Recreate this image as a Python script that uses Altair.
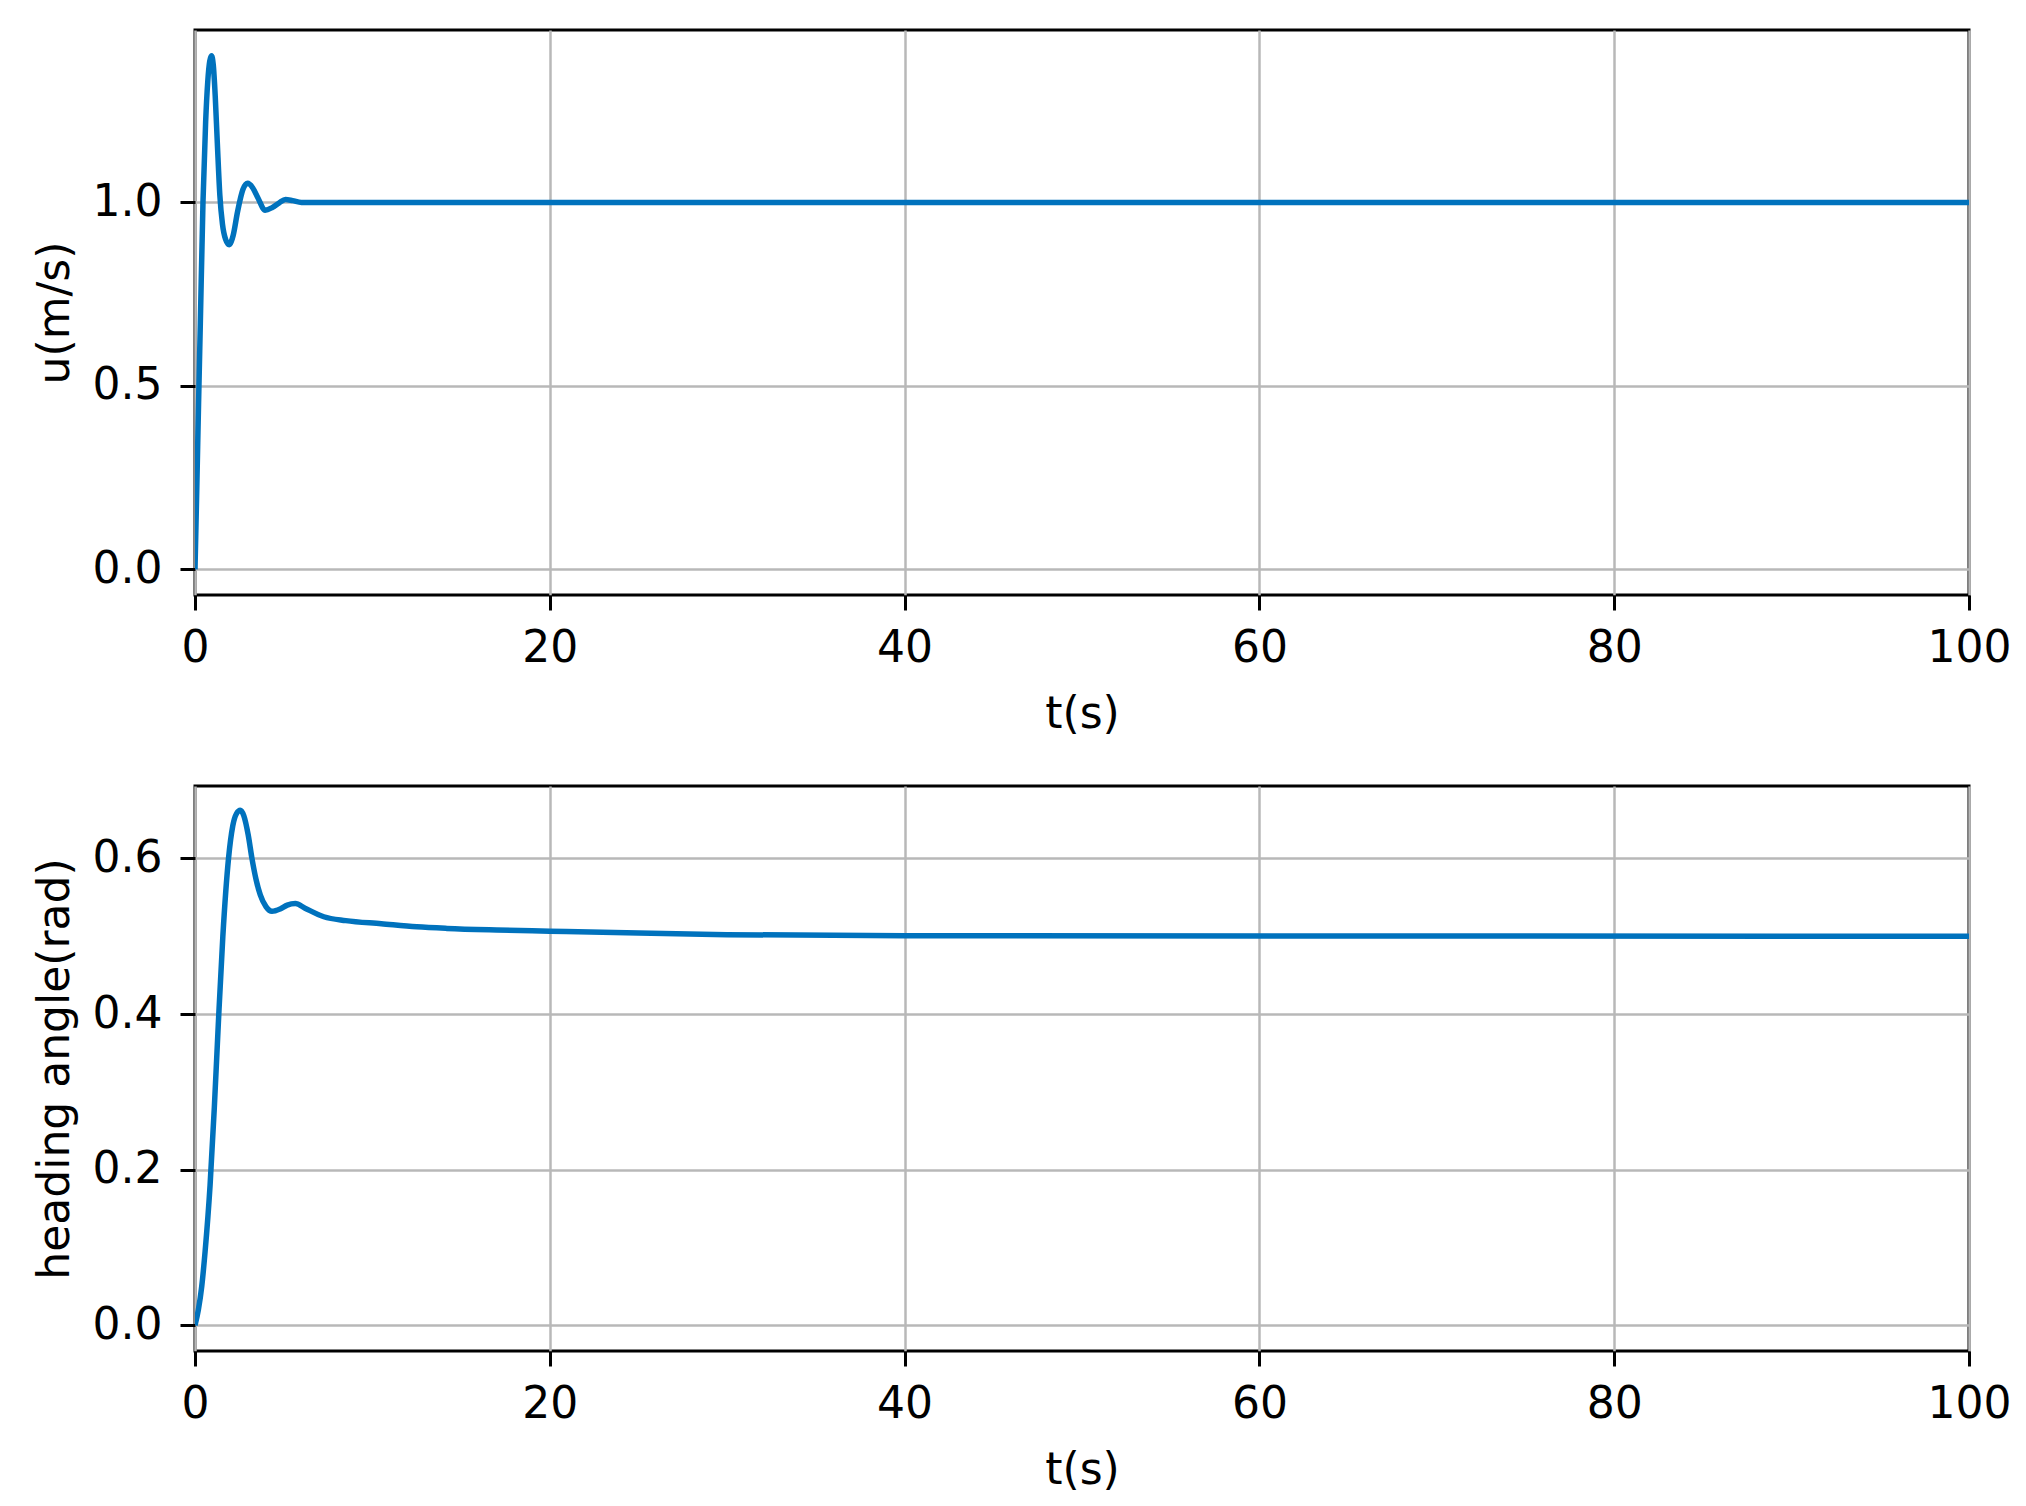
import altair as alt
import pandas as pd

# ---- data ----
t_u = [0, 0.1, 0.2, 0.3, 0.45, 0.6, 0.72, 0.83, 0.93, 1.03, 1.14, 1.26, 1.4, 1.55,
       1.72, 1.93, 2.15, 2.4, 2.7, 2.97, 3.25, 3.55, 3.95, 4.35, 4.75, 5.1, 5.5,
       6.0, 6.5, 8, 100]
u_vals = [0, 0.22, 0.45, 0.67, 1.0, 1.22, 1.33, 1.385, 1.40, 1.375, 1.29, 1.16,
          1.02, 0.94, 0.90, 0.885, 0.91, 0.975, 1.035, 1.052, 1.04, 1.012, 0.979,
          0.986, 0.999, 1.008, 1.005, 1.0, 1.0, 1.0, 1.0]

t_h = [0, 0.19, 0.38, 0.57, 0.85, 1.09, 1.32, 1.57, 1.89, 2.13, 2.35, 2.55, 2.75,
       3.0, 3.21, 3.45, 3.68, 4.0, 4.34, 4.8, 5.2, 5.66, 6.2, 7.26, 8.5, 10.5,
       12.5, 14.2, 17, 20, 25, 30, 40, 100]
h_vals = [0, 0.02, 0.05, 0.095, 0.18, 0.28, 0.39, 0.50, 0.6, 0.642, 0.658,
          0.662, 0.655, 0.63, 0.6, 0.572, 0.553, 0.538, 0.532, 0.535, 0.540,
          0.542, 0.536, 0.525, 0.520, 0.516, 0.512, 0.510, 0.508, 0.5065, 0.504,
          0.502, 0.5005, 0.5]

x_ticks = [0, 20, 40, 60, 80, 100]
u_ticks = [0.0, 0.5, 1.0]
h_ticks = [0.0, 0.2, 0.4, 0.6]

LINE = "#0072BD"
W, H = 1774, 565


def panel(t, v, ylabel, ydomain, yticks):
    df = pd.DataFrame({"t": t, "v": v})
    return (
        alt.Chart(df)
        .mark_line(color=LINE, strokeWidth=5.5, interpolate="monotone", clip=True)
        .encode(
            x=alt.X("t:Q",
                    scale=alt.Scale(domain=[0, 100], nice=False, zero=False),
                    axis=alt.Axis(values=x_ticks, format="d", title="t(s)",
                                  labelFlush=False)),
            y=alt.Y("v:Q",
                    scale=alt.Scale(domain=ydomain, nice=False, zero=False),
                    axis=alt.Axis(values=yticks, format=".1f", title=ylabel)),
        )
        .properties(width=W, height=H)
    )


top = panel(t_u, u_vals, "u(m/s)", [-0.07, 1.47], u_ticks)
bottom = panel(t_h, h_vals, "heading angle(rad)", [-0.033, 0.693], h_ticks)

chart = (
    alt.vconcat(top, bottom, spacing=46)
    .properties(padding={"left": 23, "top": 20, "right": 5, "bottom": 5},
                background="white")
    .configure_axis(
        labelFont="DejaVu Sans", labelFontSize=44, labelColor="black",
        titleFont="DejaVu Sans", titleFontSize=44, titleFontWeight="normal",
        titleColor="black", tickColor="black", tickSize=15, tickWidth=3,
        domain=False, grid=True, gridColor="#b8b8b8", gridWidth=2.5,
    )
    .configure_axisX(labelPadding=16, titlePadding=22)
    .configure_axisY(labelPadding=18, titlePadding=15)
    .configure_view(stroke="black", strokeWidth=3)
)

chart.save("out.html", embed_options={"renderer": "svg", "actions": False})
